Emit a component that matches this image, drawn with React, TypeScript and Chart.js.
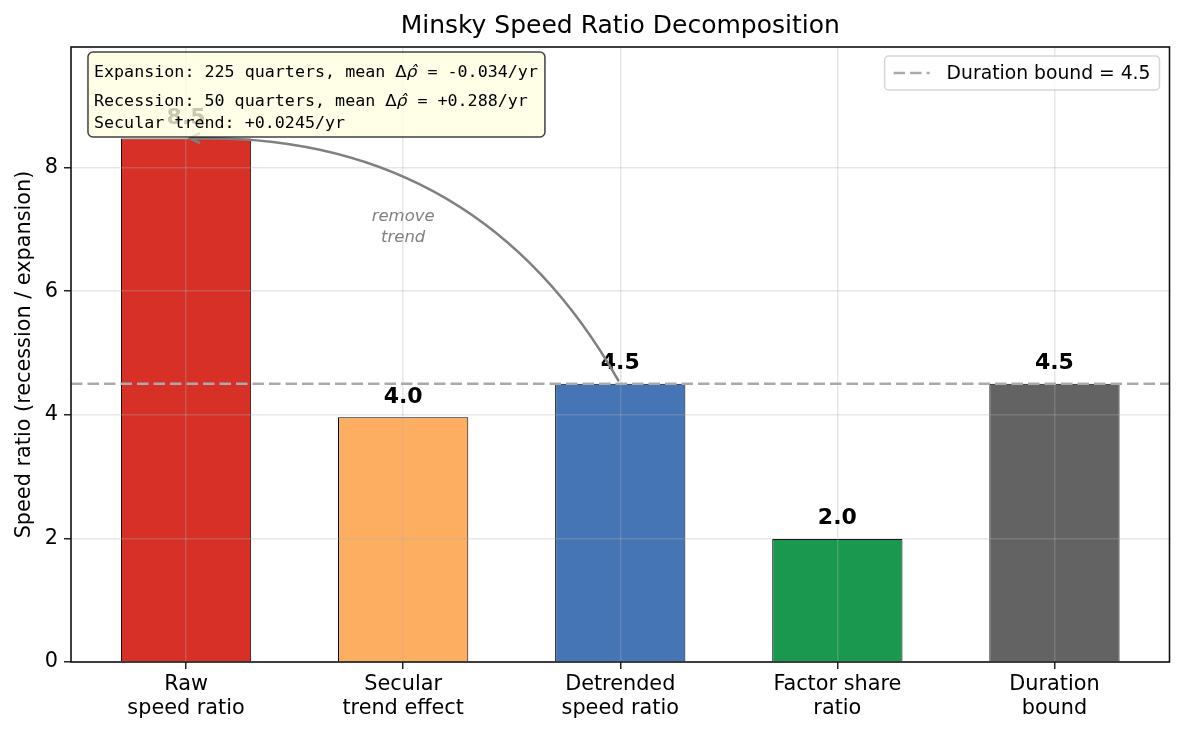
import { useEffect, useRef } from "react"
import { Chart, registerables } from "chart.js"

Chart.register(...registerables)

// Chart data
const categories = [
  ["Raw", "speed ratio"],
  ["Secular", "trend effect"],
  ["Detrended", "speed ratio"],
  ["Factor share", "ratio"],
  ["Duration", "bound"],
]
const ratios = [8.47, 3.96, 4.5, 1.99, 4.5]
const barColors = ["#d73027", "#fdae61", "#4575b4", "#1a9850", "#636363"]
const durationBound = 4.5
const yTicks = [0, 2, 4, 6, 8]
const xRange = [-0.53, 4.53]
const yMax = 9.95
const infoLines = [
  ["Expansion: 225 quarters, mean ", "Δ", "ρ\u0302", " = -0.034/yr"],
  ["Recession: 50 quarters, mean ", "Δ", "ρ\u0302", " = +0.288/yr"],
  ["Secular trend: +0.0245/yr"],
]

const SANS = "DejaVu Sans"
const MONO = "DejaVu Sans Mono"

const overlayPlugin = {
  id: "overlay",
  afterDraw(chart: any) {
    const { ctx, chartArea: area, scales } = chart
    const xs = scales.x
    const ys = scales.y
    ctx.save()

    // value labels above bars
    ctx.fillStyle = "#000"
    ctx.font = `bold 22px ${SANS}`
    ctx.textAlign = "center"
    ctx.textBaseline = "bottom"
    ratios.forEach((v, i) => {
      ctx.fillText(v.toFixed(1), xs.getPixelForValue(i), ys.getPixelForValue(v + 0.15))
    })

    // curved arrow: detrended -> raw
    const sx = xs.getPixelForValue(2)
    const sy = ys.getPixelForValue(ratios[2])
    const ex = xs.getPixelForValue(0)
    const ey = ys.getPixelForValue(ratios[0])
    const dx = ex - sx
    const dy = ey - sy
    const cx = (sx + ex) / 2 - 0.3 * dy
    const cy = (sy + ey) / 2 + 0.3 * dx
    const unit = (ax: number, ay: number) => {
      const l = Math.hypot(ax, ay)
      return [ax / l, ay / l]
    }
    const [us, vs] = unit(cx - sx, cy - sy)
    const [ue, ve] = unit(cx - ex, cy - ey)
    const p0x = sx + us * 4
    const p0y = sy + vs * 4
    const tx = ex + ue * 4
    const ty = ey + ve * 4
    ctx.strokeStyle = "#808080"
    ctx.lineWidth = 2.5
    ctx.lineCap = "round"
    ctx.beginPath()
    ctx.moveTo(p0x, p0y)
    ctx.quadraticCurveTo(cx, cy, tx, ty)
    ctx.stroke()
    const hl = 9
    const hw = 4.5
    ctx.beginPath()
    ctx.moveTo(tx + ue * hl - ve * hw, ty + ve * hl + ue * hw)
    ctx.lineTo(tx, ty)
    ctx.lineTo(tx + ue * hl + ve * hw, ty + ve * hl - ue * hw)
    ctx.stroke()

    ctx.fillStyle = "#808080"
    ctx.font = `italic 16.5px ${SANS}`
    ctx.textBaseline = "middle"
    const rx = xs.getPixelForValue(1)
    const ry = ys.getPixelForValue(7.05)
    ctx.fillText("remove", rx, ry - 10)
    ctx.fillText("trend", rx, ry + 11)

    // info box
    const tx0 = area.left + 0.02 * (area.right - area.left) + 1
    const top = area.top + 12
    const baselines = [top + 18, top + 47, top + 69]
    const fontFor = (k: number, parts: string[]) => {
      if (parts.length === 1 || k === 0 || k === 3) return `16.7px ${MONO}`
      if (k === 1) return `16.7px ${SANS}`
      return `italic 16.7px ${SANS}`
    }
    let maxW = 0
    infoLines.forEach((parts) => {
      let w = 0
      parts.forEach((p, k) => {
        ctx.font = fontFor(k, parts)
        w += ctx.measureText(p).width
      })
      maxW = Math.max(maxW, w)
    })
    const bx = tx0 - 6
    const by = area.top + 5
    const bw = maxW + 13
    const bh = 85
    ctx.fillStyle = "rgba(255,255,224,0.78)"
    ctx.strokeStyle = "rgba(0,0,0,0.75)"
    ctx.lineWidth = 1.5
    ctx.beginPath()
    ctx.roundRect(bx, by, bw, bh, 5)
    ctx.fill()
    ctx.stroke()
    ctx.fillStyle = "#000"
    ctx.textAlign = "left"
    ctx.textBaseline = "alphabetic"
    infoLines.forEach((parts, li) => {
      let x = tx0
      parts.forEach((p, k) => {
        ctx.font = fontFor(k, parts)
        ctx.fillText(p, x, baselines[li])
        x += ctx.measureText(p).width
      })
    })

    // legend
    const legendText = `Duration bound = ${durationBound}`
    ctx.font = `18.75px ${SANS}`
    const lw = ctx.measureText(legendText).width
    const lRight = area.right - 10
    const textLeft = lRight - 9 - lw
    const lineEnd = textLeft - 17
    const lineStart = lineEnd - 36
    const lLeft = lineStart - 9
    const lTop = area.top + 9
    const lH = 34
    ctx.fillStyle = "rgba(255,255,255,0.8)"
    ctx.strokeStyle = "#d6d6d6"
    ctx.lineWidth = 1.5
    ctx.beginPath()
    ctx.roundRect(lLeft, lTop, lRight - lLeft, lH, 4)
    ctx.fill()
    ctx.stroke()
    ctx.strokeStyle = "#aaaaaa"
    ctx.lineWidth = 2.5
    ctx.lineCap = "butt"
    ctx.setLineDash([11.5, 5])
    ctx.beginPath()
    ctx.moveTo(lineStart, lTop + lH / 2)
    ctx.lineTo(lineEnd, lTop + lH / 2)
    ctx.stroke()
    ctx.setLineDash([])
    ctx.fillStyle = "#000"
    ctx.textBaseline = "middle"
    ctx.fillText(legendText, textLeft, lTop + lH / 2 + 1)

    // spines
    ctx.strokeStyle = "#111"
    ctx.lineWidth = 1.6
    ctx.strokeRect(area.left, area.top, area.right - area.left, area.bottom - area.top)

    // title
    ctx.font = `25px ${SANS}`
    ctx.textAlign = "center"
    ctx.textBaseline = "alphabetic"
    ctx.fillText("Minsky Speed Ratio Decomposition", (area.left + area.right) / 2, 33)
    ctx.restore()
  },
}

export default function App() {
  const chartRef = useRef<HTMLCanvasElement>(null)
  const chartInstance = useRef<Chart | null>(null)

  useEffect(() => {
    document.body.style.margin = "0"
    if (!chartRef.current) return
    if (chartInstance.current) chartInstance.current.destroy()
    const ctx = chartRef.current.getContext("2d")
    if (!ctx) return

    Chart.defaults.font.family = SANS
    Chart.defaults.color = "#000"

    chartInstance.current = new Chart(ctx, {
      type: "bar",
      data: {
        datasets: [
          {
            type: "line",
            label: `Duration bound = ${durationBound}`,
            data: xRange.map((x) => ({ x, y: durationBound })),
            borderColor: "#aaaaaa",
            borderWidth: 2.5,
            borderDash: [11.5, 5],
            pointRadius: 0,
            order: 0,
          } as any,
          {
            type: "bar",
            label: "Speed ratio",
            data: ratios.map((y, x) => ({ x, y })),
            backgroundColor: barColors,
            borderColor: "#000",
            borderWidth: 1,
            barPercentage: 0.6,
            categoryPercentage: 1,
            order: 1,
          },
        ],
      },
      options: {
        responsive: false,
        animation: false,
        layout: { padding: { top: 47, right: 15.5, left: 0, bottom: 0 } },
        plugins: {
          legend: { display: false },
          title: { display: false },
          tooltip: { enabled: false },
        },
        scales: {
          x: {
            type: "linear",
            offset: false,
            min: xRange[0],
            max: xRange[1],
            afterBuildTicks: (axis: any) => {
              axis.ticks = categories.map((_, i) => ({ value: i }))
            },
            afterFit: (s: any) => {
              s.height = 73
            },
            ticks: {
              callback: (v: any) => categories[v] ?? "",
              font: { size: 20.8, lineHeight: 1.13 },
              color: "#000",
              padding: 4,
              maxRotation: 0,
              autoSkip: false,
            },
            grid: {
              offset: false,
              color: "rgba(176,176,176,0.3)",
              lineWidth: 1.5,
              tickColor: "#222",
              tickLength: 7,
              tickWidth: 1.5,
              z: 1,
            },
            border: { display: false },
          },
          y: {
            type: "linear",
            min: 0,
            max: yMax,
            afterBuildTicks: (axis: any) => {
              axis.ticks = yTicks.map((value) => ({ value }))
            },
            afterFit: (s: any) => {
              s.width = 71
            },
            ticks: {
              font: { size: 20.8 },
              color: "#000",
              padding: 6,
            },
            grid: {
              color: "rgba(176,176,176,0.3)",
              lineWidth: 1.5,
              tickColor: "#222",
              tickLength: 7,
              tickWidth: 1.5,
              z: 1,
            },
            border: { display: false },
            title: {
              display: true,
              text: "Speed ratio (recession / expansion)",
              font: { size: 20.8 },
              color: "#000",
              padding: { top: 12, bottom: 0 },
            },
          },
        },
      },
      plugins: [overlayPlugin],
    })

    return () => {
      if (chartInstance.current) {
        chartInstance.current.destroy()
        chartInstance.current = null
      }
    }
  }, [])

  return (
    <div style={{ width: 1185, height: 735 }}>
      <canvas ref={chartRef} width={1185} height={735} style={{ width: 1185, height: 735 }}></canvas>
    </div>
  )
}
